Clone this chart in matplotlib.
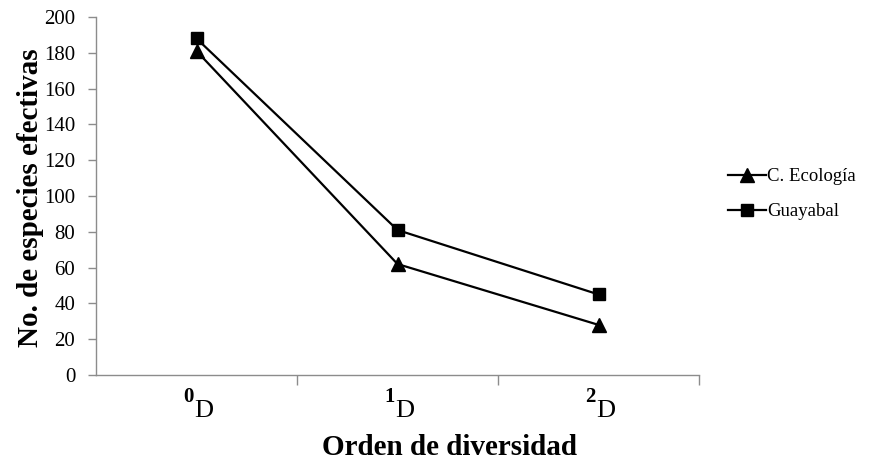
import numpy as np
import matplotlib.pyplot as plt
from matplotlib.ticker import FixedLocator

plt.rcParams['font.family'] = 'Liberation Serif'

orders = ['0', '1', '2']
ecologia = [181, 62, 28]
guayabal = [188, 81, 45]

W, H = 872, 462
fig = plt.figure(figsize=(W / 100, H / 100), dpi=100)
ax = fig.add_axes([96 / W, 1 - 375 / H, 603 / W, 358 / H])

x = np.arange(len(orders))
ax.plot(x, ecologia, color='black', lw=1.6, marker='^', ms=10, label='C. Ecología')
ax.plot(x, guayabal, color='black', lw=1.6, marker='s', ms=8.5, label='Guayabal')

ax.set_xlim(-0.5, 2.5)
ax.set_ylim(0, 200)
ax.set_yticks(np.arange(0, 201, 20))
ax.set_xticks(x)
ax.set_xticklabels([])
ax.xaxis.set_minor_locator(FixedLocator([0.5, 1.5, 2.5]))
ax.tick_params(axis='x', which='major', length=0)
ax.tick_params(axis='x', which='minor', length=7, color='#8c8c8c', width=1)
ax.tick_params(axis='y', length=6, color='#8c8c8c', width=1, labelsize=15, pad=9)

# category labels: superscript order number + D
for i, o in zip(x, orders):
    ax.annotate('D', xy=(i, 0), xycoords=('data', 'axes fraction'),
                xytext=(-2, -42), textcoords='offset pixels',
                ha='left', va='baseline', fontsize=19)
    ax.annotate(o, xy=(i, 0), xycoords=('data', 'axes fraction'),
                xytext=(-3, -27), textcoords='offset pixels',
                ha='right', va='baseline', fontsize=15, fontweight='bold')

for s in ['top', 'right']:
    ax.spines[s].set_visible(False)
for s in ['left', 'bottom']:
    ax.spines[s].set_color('#8c8c8c')
    ax.spines[s].set_linewidth(1)

fig.text(450 / W, 1 - 455 / H, 'Orden de diversidad', fontsize=21, fontweight='bold',
         ha='center', va='baseline')
fig.text(30 / W, 1 - 198 / H, 'No. de especies efectivas', fontsize=21, fontweight='bold',
         ha='center', va='center', rotation=90)

fig.legend(loc='upper left', bbox_to_anchor=(728 / W, 1 - 168 / H), frameon=False,
           fontsize=13.5, handlelength=2.0, handletextpad=0.1, labelspacing=0.95,
           borderpad=0, borderaxespad=0)

fig.savefig('out.png', dpi=100)
